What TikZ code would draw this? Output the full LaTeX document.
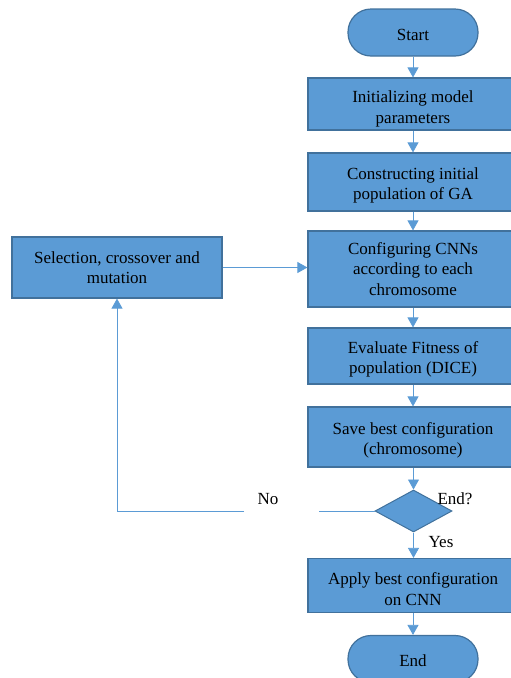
\documentclass[tikz,border=0pt]{standalone}
\usepackage{fontspec}
\setmainfont{Liberation Serif}
\usetikzlibrary{arrows.meta,shapes.geometric}
\definecolor{boxfill}{HTML}{5B9BD5}
\definecolor{boxline}{HTML}{41719C}
\definecolor{conn}{HTML}{5B9BD5}
\newcommand\toppad[1]{\rule{0pt}{#1}}
\begin{document}
\begin{tikzpicture}[x=1pt,y=-1pt,
  every node/.style={font=\fontsize{17}{20.5}\selectfont},
  procbox/.style={draw=boxline,line width=1.2pt,fill=boxfill,minimum width=210pt,align=center,inner sep=0pt},
  pill/.style={draw=boxline,line width=1.2pt,fill=boxfill,minimum width=130pt,minimum height=47pt,rounded corners=23pt,inner sep=0pt},
  decis/.style={draw=boxline,line width=1pt,fill=boxfill,diamond,minimum width=77pt,minimum height=42pt,inner sep=0pt,aspect=1.83},
  conline/.style={draw=conn,line width=0.8pt},
  arr/.style={conline,-{Triangle[width=11pt,length=10pt]}},
  lbl/.style={inner sep=0pt}]
\useasboundingbox (0,0) rectangle (511,678);
\clip (0,0) rectangle (511,678);
\node[pill] (start) at (413,32.5) {\toppad{16pt}Start};
\node[procbox,minimum height=52pt] (init) at (413,104) {\toppad{22pt}Initializing model\\parameters};
\node[procbox,minimum height=58pt] (cons) at (413,182) {\toppad{19pt}Constructing initial\\population of GA};
\node[procbox,minimum height=76pt] (cfg) at (413,269) {Configuring CNNs\\according to each\\chromosome};
\node[procbox,minimum height=56pt] (eval) at (413,356) {\toppad{19pt}Evaluate Fitness of\\population (DICE)};
\node[procbox,minimum height=60pt] (save) at (413,437) {\toppad{19pt}Save best configuration\\(chromosome)};
\node[decis] (dec) at (413.5,511) {};
\node[procbox,minimum height=54pt] (apply) at (413,585.5) {\toppad{19pt}Apply best configuration\\on CNN};
\node[pill] (end) at (413,659) {\toppad{16pt}End};
\node[procbox,minimum height=61pt] (sel) at (117,267.5) {Selection, crossover and\\mutation};
\node[lbl] (no) at (268,499) {No};
\node[lbl] (endq) at (455,499) {End?};
\node[lbl] (yes) at (441,542) {Yes};
\coordinate (gapR) at (319,511);
\coordinate (gapL) at (244,511);
\draw[arr] (start) -- (init);
\draw[arr] (init) -- (cons);
\draw[arr] (cons) -- (cfg);
\draw[arr] (cfg) -- (eval);
\draw[arr] (eval) -- (save);
\draw[arr] (save.south -| dec.north) -- (dec.north);
\draw[arr] (dec.south) -- (dec.south |- apply.north);
\draw[arr] (apply.south -| end.north) -- (end.north);
\draw[arr] (sel.east) -- (sel.east -| cfg.west);
\draw[conline] (dec.west) -- (gapR);
\draw[arr] (gapL) -| (sel.south);
\end{tikzpicture}
\end{document}
